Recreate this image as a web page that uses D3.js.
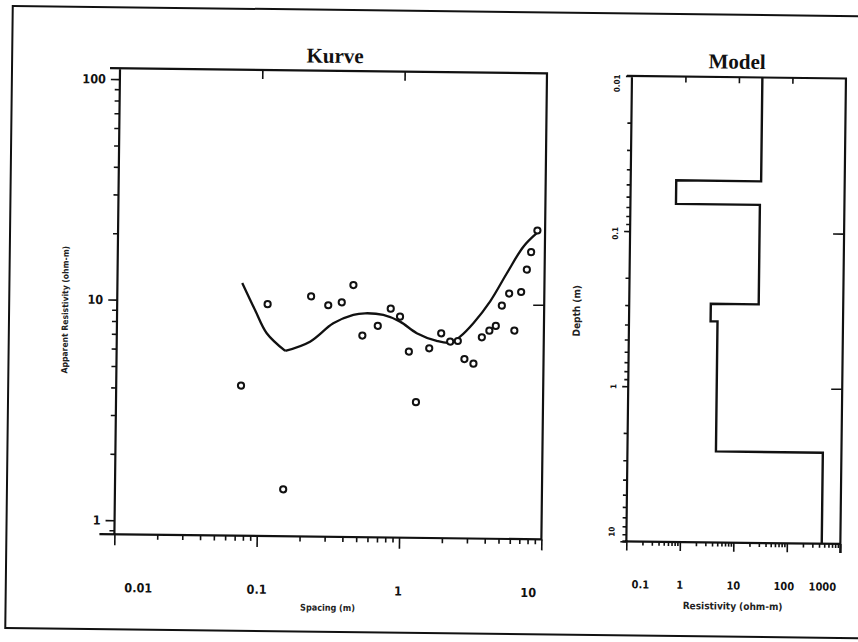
<!DOCTYPE html>
<html>
<head>
<meta charset="utf-8">
<script src="https://cdn.jsdelivr.net/npm/d3@7"></script>
<style>
  body { margin: 0; background: #fff; }
  svg { display: block; }
  .tick text { font-family: "Liberation Sans Narrow", "DejaVu Sans Condensed", "Liberation Sans", sans-serif; font-weight: bold; fill: #111; }
  .title { font-family: "Liberation Serif", "DejaVu Serif", serif; font-weight: bold; fill: #111; }
  .axisLabel { font-family: "Liberation Sans Narrow", "DejaVu Sans Condensed", "Liberation Sans", sans-serif; font-weight: bold; fill: #222; }
</style>
</head>
<body>
<div id="chart"></div>
<script>
// Sounding curve: spacing (m) vs apparent resistivity (ohm-m), observed points
const spacing = [0.0753, 0.114, 0.152, 0.230, 0.304, 0.378, 0.455, 0.531, 0.680, 0.836,
  0.973, 1.13, 1.28, 1.57, 1.90, 2.20, 2.49, 2.78, 3.22, 3.67,
  4.14, 4.59, 5.04, 5.66, 6.20, 6.87, 7.50, 8.01, 8.83];
const apparentRes = [4.14, 9.72, 1.41, 10.6, 9.69, 10.0, 12.0, 7.09, 7.86, 9.42,
  8.68, 6.03, 3.56, 6.26, 7.33, 6.73, 6.78, 5.62, 5.36, 7.07,
  7.58, 7.97, 9.86, 11.2, 7.61, 11.4, 14.4, 17.3, 21.7];

// Calculated curve of the model (it has a kink at index 3)
const curveSpacing = [0.0753, 0.0931, 0.113, 0.153, 0.228, 0.331, 0.457, 0.552, 0.742, 0.975,
  1.28, 1.77, 2.20, 2.58, 3.19, 4.17, 5.42, 7.06, 8.74];
const curveRes = [12.1, 9.14, 7.18, 5.98, 6.61, 8.03, 8.79, 8.95, 8.82, 8.24,
  7.32, 6.77, 6.66, 7.10, 8.18, 10.3, 13.8, 18.3, 21.1];
const curveKink = 3;

// Layered model: resistivity per layer and depth of each interface (m)
const layerRes = [27.4, 0.71, 26.3, 3.35, 4.51, 449];
const interfaceDepth = [0.0467, 0.0662, 0.290, 0.376, 2.59];

// Axis ticks
const kurveXTicks = [0.01, 0.1, 1, 10];
const kurveXLabels = ["0.01", "0.1", "1", "10"];
const kurveYTicks = [1, 10, 100];
const kurveYLabels = ["1", "10", "100"];
const modelXTicks = [0.1, 1, 10, 100, 1000];
const modelXLabels = ["0.1", "1", "10", "100", "1000"];
const modelYTicks = [0.01, 0.1, 1, 10];
const modelYLabels = ["0.01", "0.1", "1", "10"];

const width = 858, height = 642;

function minors(decades) {
  const out = [];
  decades.forEach(d => { for (let k = 2; k <= 9; k++) out.push(+(k * d).toPrecision(3)); });
  return out;
}

const svg = d3.select("#chart").append("svg")
  .attr("width", width)
  .attr("height", height);

// the scanned page sits slightly skewed
const root = svg.append("g").attr("transform", "rotate(0.69,429,321)");

// page frame
root.append("rect")
  .attr("x", 9).attr("y", 11)
  .attr("width", 880).attr("height", 622)
  .attr("fill", "none").attr("stroke", "#111").attr("stroke-width", 2);

// ---------- Kurve ----------
const kx = d3.scaleLog().domain([0.01, 10]).range([117, 544]);
const ky = d3.scaleLog().domain([0.864, 112]).range([538, 72]);

const kg = root.append("g");

function styleAxis(g) {
  g.select(".domain").remove();
  g.selectAll(".tick line").attr("stroke", "#111").attr("stroke-width", 1.6);
}

// bottom minor + major ticks
kg.append("g").attr("transform", "translate(0,538)")
  .call(d3.axisBottom(kx).tickValues(minors([0.01, 0.1, 1])).tickSize(5).tickFormat(""))
  .call(styleAxis);
const kxAxis = kg.append("g").attr("transform", "translate(0,538)")
  .call(d3.axisBottom(kx).tickValues(kurveXTicks).tickSize(11)
    .tickFormat((d, i) => kurveXLabels[i]))
  .call(styleAxis);
const kxShift = [24, 0, -1, -13];
kxAxis.selectAll(".tick text")
  .attr("y", 49).attr("dx", (d, i) => kxShift[i])
  .style("font-size", "12.5px");

// left minor + major ticks
kg.append("g").attr("transform", "translate(117,0)")
  .call(d3.axisLeft(ky).tickValues(minors([1, 10]).concat([0.9])).tickSize(5).tickFormat(""))
  .call(styleAxis);
const kyAxis = kg.append("g").attr("transform", "translate(117,0)")
  .call(d3.axisLeft(ky).tickValues(kurveYTicks).tickSize(9).tickPadding(5)
    .tickFormat((d, i) => kurveYLabels[i]))
  .call(styleAxis);
kyAxis.selectAll(".tick text").style("font-size", "12.5px");

// top and right inner ticks
kg.append("g").attr("transform", "translate(0,72)")
  .call(d3.axisTop(kx).tickValues([0.1, 1]).tickSize(-9).tickFormat(""))
  .call(styleAxis);
kg.append("g").attr("transform", "translate(544,0)")
  .call(d3.axisRight(ky).tickValues([10]).tickSize(-11).tickFormat(""))
  .call(styleAxis);

// plot box
kg.append("path")
  .attr("d", "M102,538H544V72H107M117,72V538")
  .attr("fill", "none").attr("stroke", "#111").attr("stroke-width", 2.2);

// model curve, drawn in two smooth pieces meeting at the kink
const kurveLine = d3.line()
  .x(d => kx(d[0]))
  .y(d => ky(d[1]))
  .curve(d3.curveCatmullRom.alpha(0.5));
const curvePts = curveSpacing.map((s, i) => [s, curveRes[i]]);
[curvePts.slice(0, curveKink + 1), curvePts.slice(curveKink)].forEach(part => {
  kg.append("path")
    .datum(part)
    .attr("d", kurveLine)
    .attr("fill", "none").attr("stroke", "#111").attr("stroke-width", 2.3)
    .attr("stroke-linejoin", "round");
});

// observed points
kg.selectAll("circle.obs")
  .data(apparentRes)
  .enter()
  .append("circle")
    .attr("class", "obs")
    .attr("cx", (d, i) => kx(spacing[i]))
    .attr("cy", d => ky(d))
    .attr("r", 3.1)
    .attr("fill", "#fff")
    .attr("stroke", "#111")
    .attr("stroke-width", 2);

kg.append("text").attr("class", "title")
  .attr("x", 332).attr("y", 64).attr("text-anchor", "middle")
  .style("font-size", "21px").text("Kurve");

kg.append("text").attr("class", "axisLabel")
  .attr("transform", "translate(68,314) rotate(-90)")
  .attr("text-anchor", "middle").style("font-size", "8.5px")
  .text("Apparent Resistivity (ohm-m)");

kg.append("text").attr("class", "axisLabel")
  .attr("x", 331).attr("y", 612).attr("text-anchor", "middle")
  .style("font-size", "9px").text("Spacing (m)");

// ---------- Model ----------
const mx = d3.scaleLog().domain([0.1, 1000]).range([629, 843]);
const my = d3.scaleLog().domain([0.01, 10]).range([73.5, 539]);

const mg = root.append("g");

mg.append("g").attr("transform", "translate(0,539)")
  .call(d3.axisBottom(mx).tickValues(minors([0.1, 1, 10, 100])).tickSize(4).tickFormat(""))
  .call(styleAxis);
const mxAxis = mg.append("g").attr("transform", "translate(0,539)")
  .call(d3.axisBottom(mx).tickValues(modelXTicks).tickSize(9)
    .tickFormat((d, i) => modelXLabels[i]))
  .call(styleAxis);
const mxShift = [14, 0, 0, -3, -18];
mxAxis.selectAll(".tick text")
  .attr("y", 39).attr("dx", (d, i) => mxShift[i])
  .style("font-size", "11px");

mg.append("g").attr("transform", "translate(629,0)")
  .call(d3.axisLeft(my).tickValues(minors([0.01, 0.1, 1])).tickSize(4).tickFormat(""))
  .call(styleAxis);
const myAxis = mg.append("g").attr("transform", "translate(629,0)")
  .call(d3.axisLeft(my).tickValues(modelYTicks).tickSize(6)
    .tickFormat((d, i) => modelYLabels[i]))
  .call(styleAxis);
const myShift = [7, 2, 0, -10];
myAxis.selectAll(".tick text")
  .attr("transform", "rotate(-90)")
  .attr("x", (d, i) => -myShift[i])
  .attr("y", -12)
  .attr("dy", 0)
  .attr("text-anchor", "middle")
  .style("font-size", "8px");

mg.append("g").attr("transform", "translate(0,73.5)")
  .call(d3.axisTop(mx).tickValues([1, 10, 100]).tickSize(-6).tickFormat(""))
  .call(styleAxis);
mg.append("g").attr("transform", "translate(843,0)")
  .call(d3.axisRight(my).tickValues([0.1, 1]).tickSize(-11).tickFormat(""))
  .call(styleAxis);

mg.append("path")
  .attr("d", "M624,73.5H843V548M625,539H843M629,73.5V539")
  .attr("fill", "none").attr("stroke", "#111").attr("stroke-width", 2.2);

// step profile of the layered model
const tops = [0.01].concat(interfaceDepth);
const bottoms = interfaceDepth.concat([10]);
const steps = [];
layerRes.forEach((r, i) => {
  steps.push([r, tops[i]]);
  steps.push([r, bottoms[i]]);
});
mg.append("path")
  .datum(steps)
  .attr("d", d3.line().x(d => mx(d[0])).y(d => my(d[1])))
  .attr("fill", "none").attr("stroke", "#111").attr("stroke-width", 2.4);

mg.append("text").attr("class", "title")
  .attr("x", 734).attr("y", 65).attr("text-anchor", "middle")
  .style("font-size", "21px").text("Model");

mg.append("text").attr("class", "axisLabel")
  .attr("transform", "translate(580,309) rotate(-90)")
  .attr("text-anchor", "middle").style("font-size", "10px")
  .text("Depth (m)");

mg.append("text").attr("class", "axisLabel")
  .attr("x", 736).attr("y", 606).attr("text-anchor", "middle")
  .style("font-size", "10px").text("Resistivity (ohm-m)");
</script>
</body>
</html>
